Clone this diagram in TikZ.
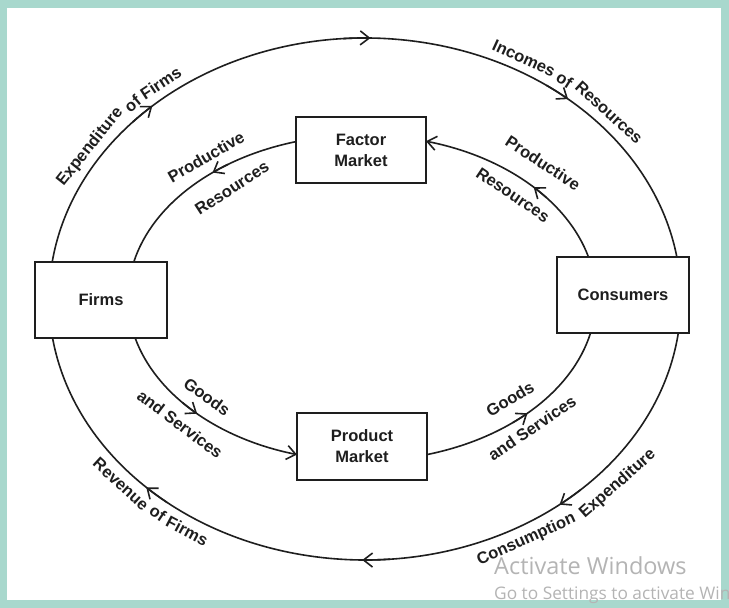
\documentclass[tikz,border=0pt]{standalone}
\usepackage{fontspec}
\setmainfont{Liberation Sans}
\newfontfamily\wmfont{Open Sans}
\usetikzlibrary{arrows.meta,calc}
\definecolor{frame}{HTML}{A8D8CD}
\definecolor{ink}{HTML}{1E1E1E}
\definecolor{wm}{HTML}{B4B4B4}
\tikzset{
  box/.style={draw=ink, line width=1.8pt, fill=white, inner sep=0pt, align=center,
    font=\bfseries\fontsize{16.5}{21}\selectfont, text=ink},
  flow/.style={draw=ink, line width=1.6pt},
  tip/.style={flow, -{Straight Barb[length=9pt,width=14pt]}},
  lab/.style={font=\bfseries\fontsize{16.5}{21}\selectfont, text=ink, inner sep=0pt, align=center},
  wmtext/.style={anchor=west, text=wm, inner sep=0pt, font=\wmfont},
}
\newcommand\ArcTip[5]{%
  \path (#1) ++(#4:#2 and #3) coordinate (tmptip);
  \draw[tip] (tmptip) arc[start angle=#4, end angle=#5, x radius=#2, y radius=#3];}
\begin{document}
\begin{tikzpicture}[x=1pt,y=1pt]
\useasboundingbox (0,0) rectangle (729,608);
\clip (0,0) rectangle (729,608);
\fill[frame] (0,0) rectangle (729,608);
\fill[white] (7,8) rectangle (721,600);

% boxes
\node[box, minimum width=132pt, minimum height=76pt] (firms) at (101,308) {Firms};
\node[box, minimum width=132pt, minimum height=76pt] (cons) at (623,313) {Consumers};
\node[box, minimum width=130pt, minimum height=66pt] (factor) at (361,458) {Factor\\Market};
\node[box, minimum width=130pt, minimum height=67pt] (product) at (362,161.5) {Product\\Market};

% ellipse centres
\coordinate (O) at (365,309);
\coordinate (I) at (362,310);

% outer circuit (money)
\path (O) ++(171.85:316pt and 261pt) coordinate (o1);
\draw[flow] (o1) arc[start angle=171.85, end angle=9.26, x radius=316pt, y radius=261pt];
\path (O) ++(-7.5:316pt and 261pt) coordinate (o2);
\draw[flow] (o2) arc[start angle=-7.5, end angle=-171.4, x radius=316pt, y radius=261pt];
\ArcTip{O}{316pt}{261pt}{137.3}{132.3}
\ArcTip{O}{316pt}{261pt}{94}{89}
\ArcTip{O}{316pt}{261pt}{55}{50}
\ArcTip{O}{316pt}{261pt}{-47}{-52}
\ArcTip{O}{316pt}{261pt}{-85.5}{-90.5}
\ArcTip{O}{316pt}{261pt}{-128.8}{-133.8}

% inner circuit (goods and resources)
\path (I) ++(106.4:234pt and 163pt) coordinate (i1);
\draw[flow] (i1) arc[start angle=106.4, end angle=167.2, x radius=234pt, y radius=163pt];
\ArcTip{I}{234pt}{163pt}{125}{129.7}
\path (I) ++(14.57:234pt and 163pt) coordinate (i2);
\draw[tip] (i2) arc[start angle=14.57, end angle=74.13, x radius=234pt, y radius=163pt];
\ArcTip{I}{234pt}{163pt}{38}{42.8}
\path (I) ++(194.2:234pt and 163pt) coordinate (i3);
\draw[tip] (i3) arc[start angle=194.2, end angle=253.87, x radius=234pt, y radius=163pt];
\ArcTip{I}{234pt}{163pt}{220}{225.2}
\path (I) ++(286.13:234pt and 163pt) coordinate (i4);
\draw[flow] (i4) arc[start angle=286.13, end angle=347.6, x radius=234pt, y radius=163pt];
\ArcTip{I}{234pt}{163pt}{310}{315}

% outer labels, word by word along the curve
\node[lab, rotate=51.4] (lexp1) at ([shift={(146.4:330pt and 275pt)}]O) {Expenditure};
\node[lab, rotate=39.6] (lexp2) at ([shift={(134.8:330pt and 275pt)}]O) {of};
\node[lab, rotate=33.3] (lexp3) at ([shift={(128.25:330pt and 275pt)}]O) {Firms};
\node[lab, rotate=-24.6] (linc1) at ([shift={(61.2:330pt and 275pt)}]O) {Incomes};
\node[lab, rotate=-32.3] (linc2) at ([shift={(52.8:330pt and 275pt)}]O) {of};
\node[lab, rotate=-42.3] (linc3) at ([shift={(42.5:331pt and 276pt)}]O) {Resources};
\node[lab, rotate=-42.5] (lrev1) at ([shift={(222.3:330pt and 275pt)}]O) {Revenue};
\node[lab, rotate=-33.9] (lrev2) at ([shift={(231.1:330pt and 275pt)}]O) {of};
\node[lab, rotate=-28] (lrev3) at ([shift={(237.4:330pt and 275pt)}]O) {Firms};
\node[lab, rotate=24.5] (lcon1) at ([shift={(-60.8:331pt and 276pt)}]O) {Consumption};
\node[lab, rotate=41.5] (lcon2) at ([shift={(-41.2:336pt and 281pt)}]O) {Expenditure};

% inner labels
\node[lab, rotate=30] (lpr1) at (206,451) {Productive};
\node[lab, rotate=33] (lre1) at (232,420) {Resources};
\node[lab, rotate=-33] (lpr2) at (543,445) {Productive};
\node[lab, rotate=-34] (lre2) at (513,413) {Resources};
\node[lab, rotate=-36] (lgo1) at (207,211) {Goods};
\node[lab, rotate=-37] (lse1) at (180,184) {and Services};
\node[lab, rotate=31] (lgo2) at (510,209) {Goods};
\node[lab, rotate=34] (lse2) at (532,180) {and Services};

% watermark
\node[wmtext, font=\wmfont\fontsize{23.5}{26}\selectfont] (wm1) at (494,42) {Activate Windows};
\node[wmtext, font=\wmfont\fontsize{17.3}{19}\selectfont] (wm2) at (494,13) {Go to Settings to activate Windows.};
\end{tikzpicture}
\end{document}
